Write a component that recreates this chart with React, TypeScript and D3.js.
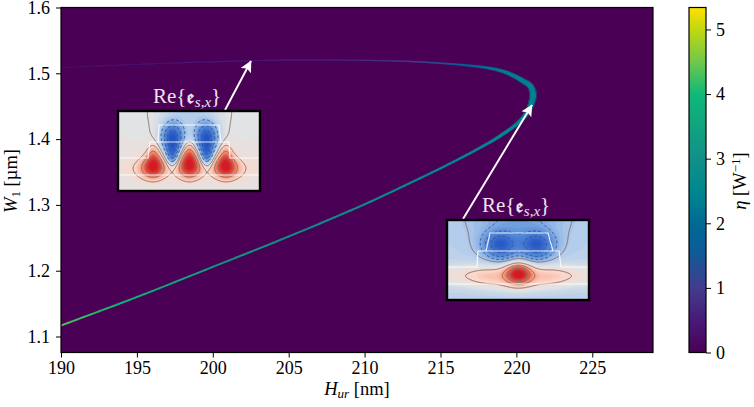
import React, { useEffect, useRef } from 'react';
import * as d3 from 'd3';

// --- Data ---
const xTicks = [190, 195, 200, 205, 210, 215, 220, 225];
const yTicks = [1.1, 1.2, 1.3, 1.4, 1.5, 1.6];
const etaTicks = [0, 1, 2, 3, 4, 5];

const hurValues = [190, 195, 200, 205, 210, 213.6, 215.6, 218.2, 219.2, 220.2, 220.8, 221.1, 220.92, 220.46, 219.87, 219.2, 218.2, 216.9, 214.9, 212.3, 208.35, 204.6, 199.14, 193.9, 190];
const w1Values = [1.1167, 1.16, 1.2058, 1.252, 1.3009, 1.34, 1.3625, 1.3945, 1.409, 1.4265, 1.444, 1.467, 1.4805, 1.4881, 1.4957, 1.5023, 1.5079, 1.5117, 1.5155, 1.5186, 1.52, 1.52, 1.517, 1.5125, 1.5087];
const etaValues = [4.4, 3.9, 3.4, 3.05, 2.85, 2.7, 2.65, 2.55, 2.5, 2.45, 2.45, 2.4, 2.4, 2.4, 2.35, 2.3, 2.15, 1.8, 1.3, 0.9, 0.6, 0.5, 0.38, 0.28, 0.18];
const bandWidths = [1.9, 1.9, 1.9, 2, 2.1, 2.2, 2.3, 2.9, 3.3, 3.8, 5, 6.5, 5.8, 5, 4.2, 3.5, 2.8, 2.2, 1.7, 1.5, 1.5, 1.4, 1.4, 1.4, 1.4];

const etaStops = [0, 0.5, 1, 1.6, 2, 2.5, 3, 4, 4.5, 5, 5.34];
const etaColors = ['#4a0055', '#481a78', '#433c8c', '#0a5e98', '#006a94', '#008890', '#109088', '#10b878', '#70c84a', '#c0d810', '#ffe000'];

// Mode profiles in the two insets: [cx, cy, sx, sy, amplitude]
const lobes1 = [
  [35, 54, 7, 7.5, 0.72], [71, 52, 7, 8.5, 0.78], [107, 54, 7, 7.5, 0.72],
  [35, 42, 4.5, 7, 0.32], [71, 40, 4.5, 7, 0.32], [107, 42, 4.5, 7, 0.32],
  [33, 59, 11, 7, 0.3], [71, 59, 10, 7, 0.26], [109, 59, 11, 7, 0.3],
  [71, 55, 90, 8, 0.1],
  [54, 26, 7.6, 10, -0.95], [88, 26, 7.6, 10, -0.95],
  [54, 43, 4.5, 8, -0.65], [88, 43, 4.5, 8, -0.65],
  [71, 0, 19.6, 16, -0.2],
];
const lobes2 = [
  [71, 53, 8.5, 7, 0.85],
  [37, 56, 12, 7, 0.12], [105, 56, 12, 7, 0.12], [71, 65, 26, 6, 0.12], [71, 54, 16, 7, 0.14],
  [71, 55, 120, 8, 0.3],
  [52, 24, 11, 8.5, -0.62], [90, 24, 11, 8.5, -0.62], [71, 24, 22, 10, -0.15],
  [71, -5, 32, 20, -0.25],
  [54, 36, 10, 5, -0.1], [90, 36, 10, 5, -0.1],
];
const solidLevels1 = [0, 0.18, 0.45, 0.7];
const dashedLevels1 = [-0.3, -0.55, -0.8];
const solidLevels2 = [-0.23, 0.14, 0.4, 0.6, 0.8];
const dashedLevels2 = [-0.38, -0.55, -0.75];

const insetW = 142;
const insetH = 80;
const fieldStops = [-1, -0.5, -0.2, 0, 0.2, 0.5, 0.8, 1.05];
const fieldColors = ['#2455c4', '#5f93dd', '#b4cdec', '#e2e3e4', '#fcd6c8', '#f68a6d', '#e23f33', '#d01c27'];

const WIDTH = 754;
const HEIGHT = 407;
const SERIF = '"Liberation Serif", "DejaVu Serif", serif';

const xScale = d3.scaleLinear().domain([190, 229]).range([61, 653]);
const yScale = d3.scaleLinear().domain([1.0757, 1.6]).range([352.5, 7.5]);
const etaScale = d3.scaleLinear().domain([0, 5.34]).range([352.5, 7.5]);
const etaColor = d3.scaleLinear<string>().domain(etaStops).range(etaColors);
const fieldColor = d3.scaleLinear<string>().domain(fieldStops).range(fieldColors).clamp(true);

// Smooth drawing of the band between the read points (centripetal Catmull-Rom)
type Knot = number[];
const smoothBand = (knots: Knot[], steps: number) => {
  const out: Knot[] = [];
  const dist = (a: Knot, b: Knot) => Math.max(Math.sqrt(Math.hypot(a[0] - b[0], a[1] - b[1])), 1e-3);
  const mix = (a: Knot, b: Knot, ta: number, tb: number, t: number) =>
    a.map((v, i) => v + (b[i] - v) * (t - ta) / (tb - ta));
  for (let i = 0; i < knots.length - 1; i++) {
    const p0 = knots[Math.max(i - 1, 0)];
    const p1 = knots[i];
    const p2 = knots[i + 1];
    const p3 = knots[Math.min(i + 2, knots.length - 1)];
    const t1 = 1;
    const t0 = p0 === p1 ? 0 : t1 - dist(p0, p1);
    const t2 = t1 + dist(p1, p2);
    const t3 = p3 === p2 ? t2 + 1 : t2 + dist(p2, p3);
    for (let s = 0; s < steps; s++) {
      const t = t1 + (t2 - t1) * s / steps;
      const a1 = p0 === p1 ? p1 : mix(p0, p1, t0, t1, t);
      const a2 = mix(p1, p2, t1, t2, t);
      const a3 = p3 === p2 ? p2 : mix(p2, p3, t2, t3, t);
      const b1 = p0 === p1 ? a2 : mix(a1, a2, t0, t2, t);
      const b2 = p3 === p2 ? a2 : mix(a2, a3, t1, t3, t);
      out.push(mix(b1, b2, t1, t2, t));
    }
  }
  out.push(knots[knots.length - 1]);
  return out;
};

const Inset: React.FC<{
  x: number; y: number; lobes: number[][]; bg: number;
  solid: number[]; dashed: number[]; wg: string;
}> = ({ x, y, lobes, bg, solid, dashed, wg }) => {
  const values: number[] = [];
  for (let j = 0; j < insetH; j++) {
    for (let i = 0; i < insetW; i++) {
      let v = bg;
      lobes.forEach(([cx, cy, sx, sy, a]) => {
        v += a * Math.exp(-((i - cx) ** 2) / (2 * sx * sx) - ((j - cy) ** 2) / (2 * sy * sy));
      });
      values.push(v);
    }
  }
  const contours = d3.contours().size([insetW, insetH]);
  const path = d3.geoPath();
  const fills = d3.range(-1.1, 1.1, 0.04);
  return (
    <g transform={`translate(${x},${y})`}>
      <g filter="url(#soft)">
        <rect width={insetW} height={insetH} fill={fieldColor(-1.1)} />
        {fills.map(t => (
          <path key={t} d={path(contours.contour(values, t)) || ''} fill={fieldColor(t + 0.02)} />
        ))}
        {solid.map(t => (
          <path key={t} d={path(contours.contour(values, t)) || ''} fill="none" stroke="#85716b" strokeWidth={1} />
        ))}
        {dashed.map(t => (
          <path key={t} d={path(contours.contour(values, t)) || ''} fill="none" stroke="#34558c" strokeWidth={1} strokeDasharray="3,2" />
        ))}
        <path d={wg} fill="none" stroke="#fff" strokeWidth={1.2} opacity={0.85} />
      </g>
      <rect width={insetW} height={insetH} fill="none" stroke="#000" strokeWidth={2.4} />
    </g>
  );
};

const ModeLabel: React.FC<{ x: number; y: number }> = ({ x, y }) => (
  <text x={x} y={y} fontFamily={SERIF} fontSize={21} fill="#efe3ef">
    Re{'{'}
    <tspan fontFamily='"DejaVu Math TeX Gyre", "DejaVu Serif", "DejaVu Sans", serif' fontWeight="bold" fontSize={17}>𝔢</tspan>
    <tspan dy={4} fontSize={15} fontStyle="italic">s,x</tspan>
    <tspan dy={-4}>{'}'}</tspan>
  </text>
);

const App: React.FC = () => {
  const svgRef = useRef<SVGSVGElement | null>(null);

  useEffect(() => {
    if (!svgRef.current) return;
    const svg = d3.select(svgRef.current);
    svg.selectAll('.axis').remove();

    const style = (g: d3.Selection<SVGGElement, unknown, null, undefined>) => {
      g.attr('class', 'axis').attr('font-family', SERIF).attr('font-size', 18);
      g.select('.domain').remove();
      g.selectAll('line').attr('stroke', '#000').attr('stroke-width', 1);
      g.selectAll('text').attr('fill', '#000');
    };

    const bottom = svg.append('g').attr('transform', 'translate(0,352.5)')
      .call(d3.axisBottom(xScale).tickValues(xTicks).tickSize(5).tickPadding(4).tickFormat(d => String(d)));
    style(bottom);
    const left = svg.append('g').attr('transform', 'translate(61,0)')
      .call(d3.axisLeft(yScale).tickValues(yTicks).tickSize(5).tickPadding(6).tickFormat(d3.format('.1f') as any));
    style(left);
    const bar = svg.append('g').attr('transform', 'translate(706,0)')
      .call(d3.axisRight(etaScale).tickValues(etaTicks).tickSize(5).tickPadding(5).tickFormat(d => String(d)));
    style(bar);
  }, []);

  const band = smoothBand(
    hurValues.map((h, i) => [xScale(h), yScale(w1Values[i]), etaValues[i], bandWidths[i]]),
    10,
  );
  const segments = band.slice(1).map((p, i) => ({
    x1: band[i][0], y1: band[i][1], x2: p[0], y2: p[1], eta: p[2], w: p[3],
  }));

  const [x0, x1] = xScale.range();
  const [yB, yT] = yScale.range();

  return (
    <svg ref={svgRef} width={WIDTH} height={HEIGHT} style={{ position: 'absolute', left: 0, top: 0 }}>
      <defs>
        <filter id="soft" x="-5%" y="-5%" width="110%" height="110%">
          <feGaussianBlur stdDeviation="0.45" />
        </filter>
        <clipPath id="plot">
          <rect x={x0} y={yT} width={x1 - x0} height={yB - yT} />
        </clipPath>
        <linearGradient id="etaGrad" x1="0" y1="1" x2="0" y2="0">
          {etaStops.map((s, i) => (
            <stop key={s} offset={s / 5.34} stopColor={etaColors[i]} />
          ))}
        </linearGradient>
        <marker id="head" viewBox="0 0 10 10" refX="9.5" refY="5" markerWidth="6" markerHeight="6" orient="auto">
          <path d="M0,0 L10,5 L0,10 L2,5 Z" fill="#fff" />
        </marker>
      </defs>

      {/* heat map */}
      <rect x={x0} y={yT} width={x1 - x0} height={yB - yT} fill={etaColor(0)} />
      <g clipPath="url(#plot)">
        <g filter="url(#soft)">
          <g opacity={0.4}>
            {segments.map((s, i) => (
              <line key={i} x1={s.x1} y1={s.y1} x2={s.x2} y2={s.y2} stroke={etaColor(s.eta)} strokeWidth={s.w * 1.2} strokeLinecap="round" />
            ))}
          </g>
          {segments.map((s, i) => (
            <line key={i} x1={s.x1} y1={s.y1} x2={s.x2} y2={s.y2} stroke={etaColor(s.eta)} strokeWidth={s.w * 0.8} strokeLinecap="round" />
          ))}
        </g>
      </g>

      {/* annotations */}
      <line x1={225} y1={110} x2={251} y2={61} stroke="#fff" strokeWidth={1.9} markerEnd="url(#head)" />
      <line x1={463} y1={219} x2={532} y2={105} stroke="#fff" strokeWidth={1.9} markerEnd="url(#head)" />
      <Inset x={118} y={111} lobes={lobes1} bg={0.02} solid={solidLevels1} dashed={dashedLevels1}
        wg="M0,47 H30 L32,31 H111 L112,47 H142 M0,64 H142 M40,31 L41,14 H101 L103,31" />
      <Inset x={447} y={220} lobes={lobes2} bg={-0.17} solid={solidLevels2} dashed={dashedLevels2}
        wg="M0,47 H30 L31,31 H112 L114,47 H142 M0,64 H142 M39,31 L43,13 H101 L106,31" />
      <ModeLabel x={153} y={103} />
      <ModeLabel x={482} y={212} />

      <rect x={x0} y={yT} width={x1 - x0} height={yB - yT} fill="none" stroke="#000" strokeWidth={1.2} />

      {/* colour bar */}
      <rect x={689} y={yT} width={17} height={yB - yT} fill="url(#etaGrad)" stroke="#000" strokeWidth={1.2} />

      {/* axis titles */}
      <text x={357} y={395} textAnchor="middle" fontFamily={SERIF} fontSize={18.5}>
        <tspan fontStyle="italic">H</tspan>
        <tspan dy={3} fontSize={13} fontStyle="italic">ur</tspan>
        <tspan dy={-3}> [nm]</tspan>
      </text>
      <text transform="translate(17,181) rotate(-90)" textAnchor="middle" fontFamily={SERIF} fontSize={18.5}>
        <tspan fontStyle="italic">W</tspan>
        <tspan dy={3} fontSize={13}>1</tspan>
        <tspan dy={-3}> [µm]</tspan>
      </text>
      <text transform="translate(746,181) rotate(-90)" textAnchor="middle" fontFamily={SERIF} fontSize={18.5}>
        <tspan fontStyle="italic">η</tspan>
        <tspan> [W</tspan>
        <tspan dy={-6} fontSize={13}>−1</tspan>
        <tspan dy={6}>]</tspan>
      </text>
    </svg>
  );
};

export default App;
